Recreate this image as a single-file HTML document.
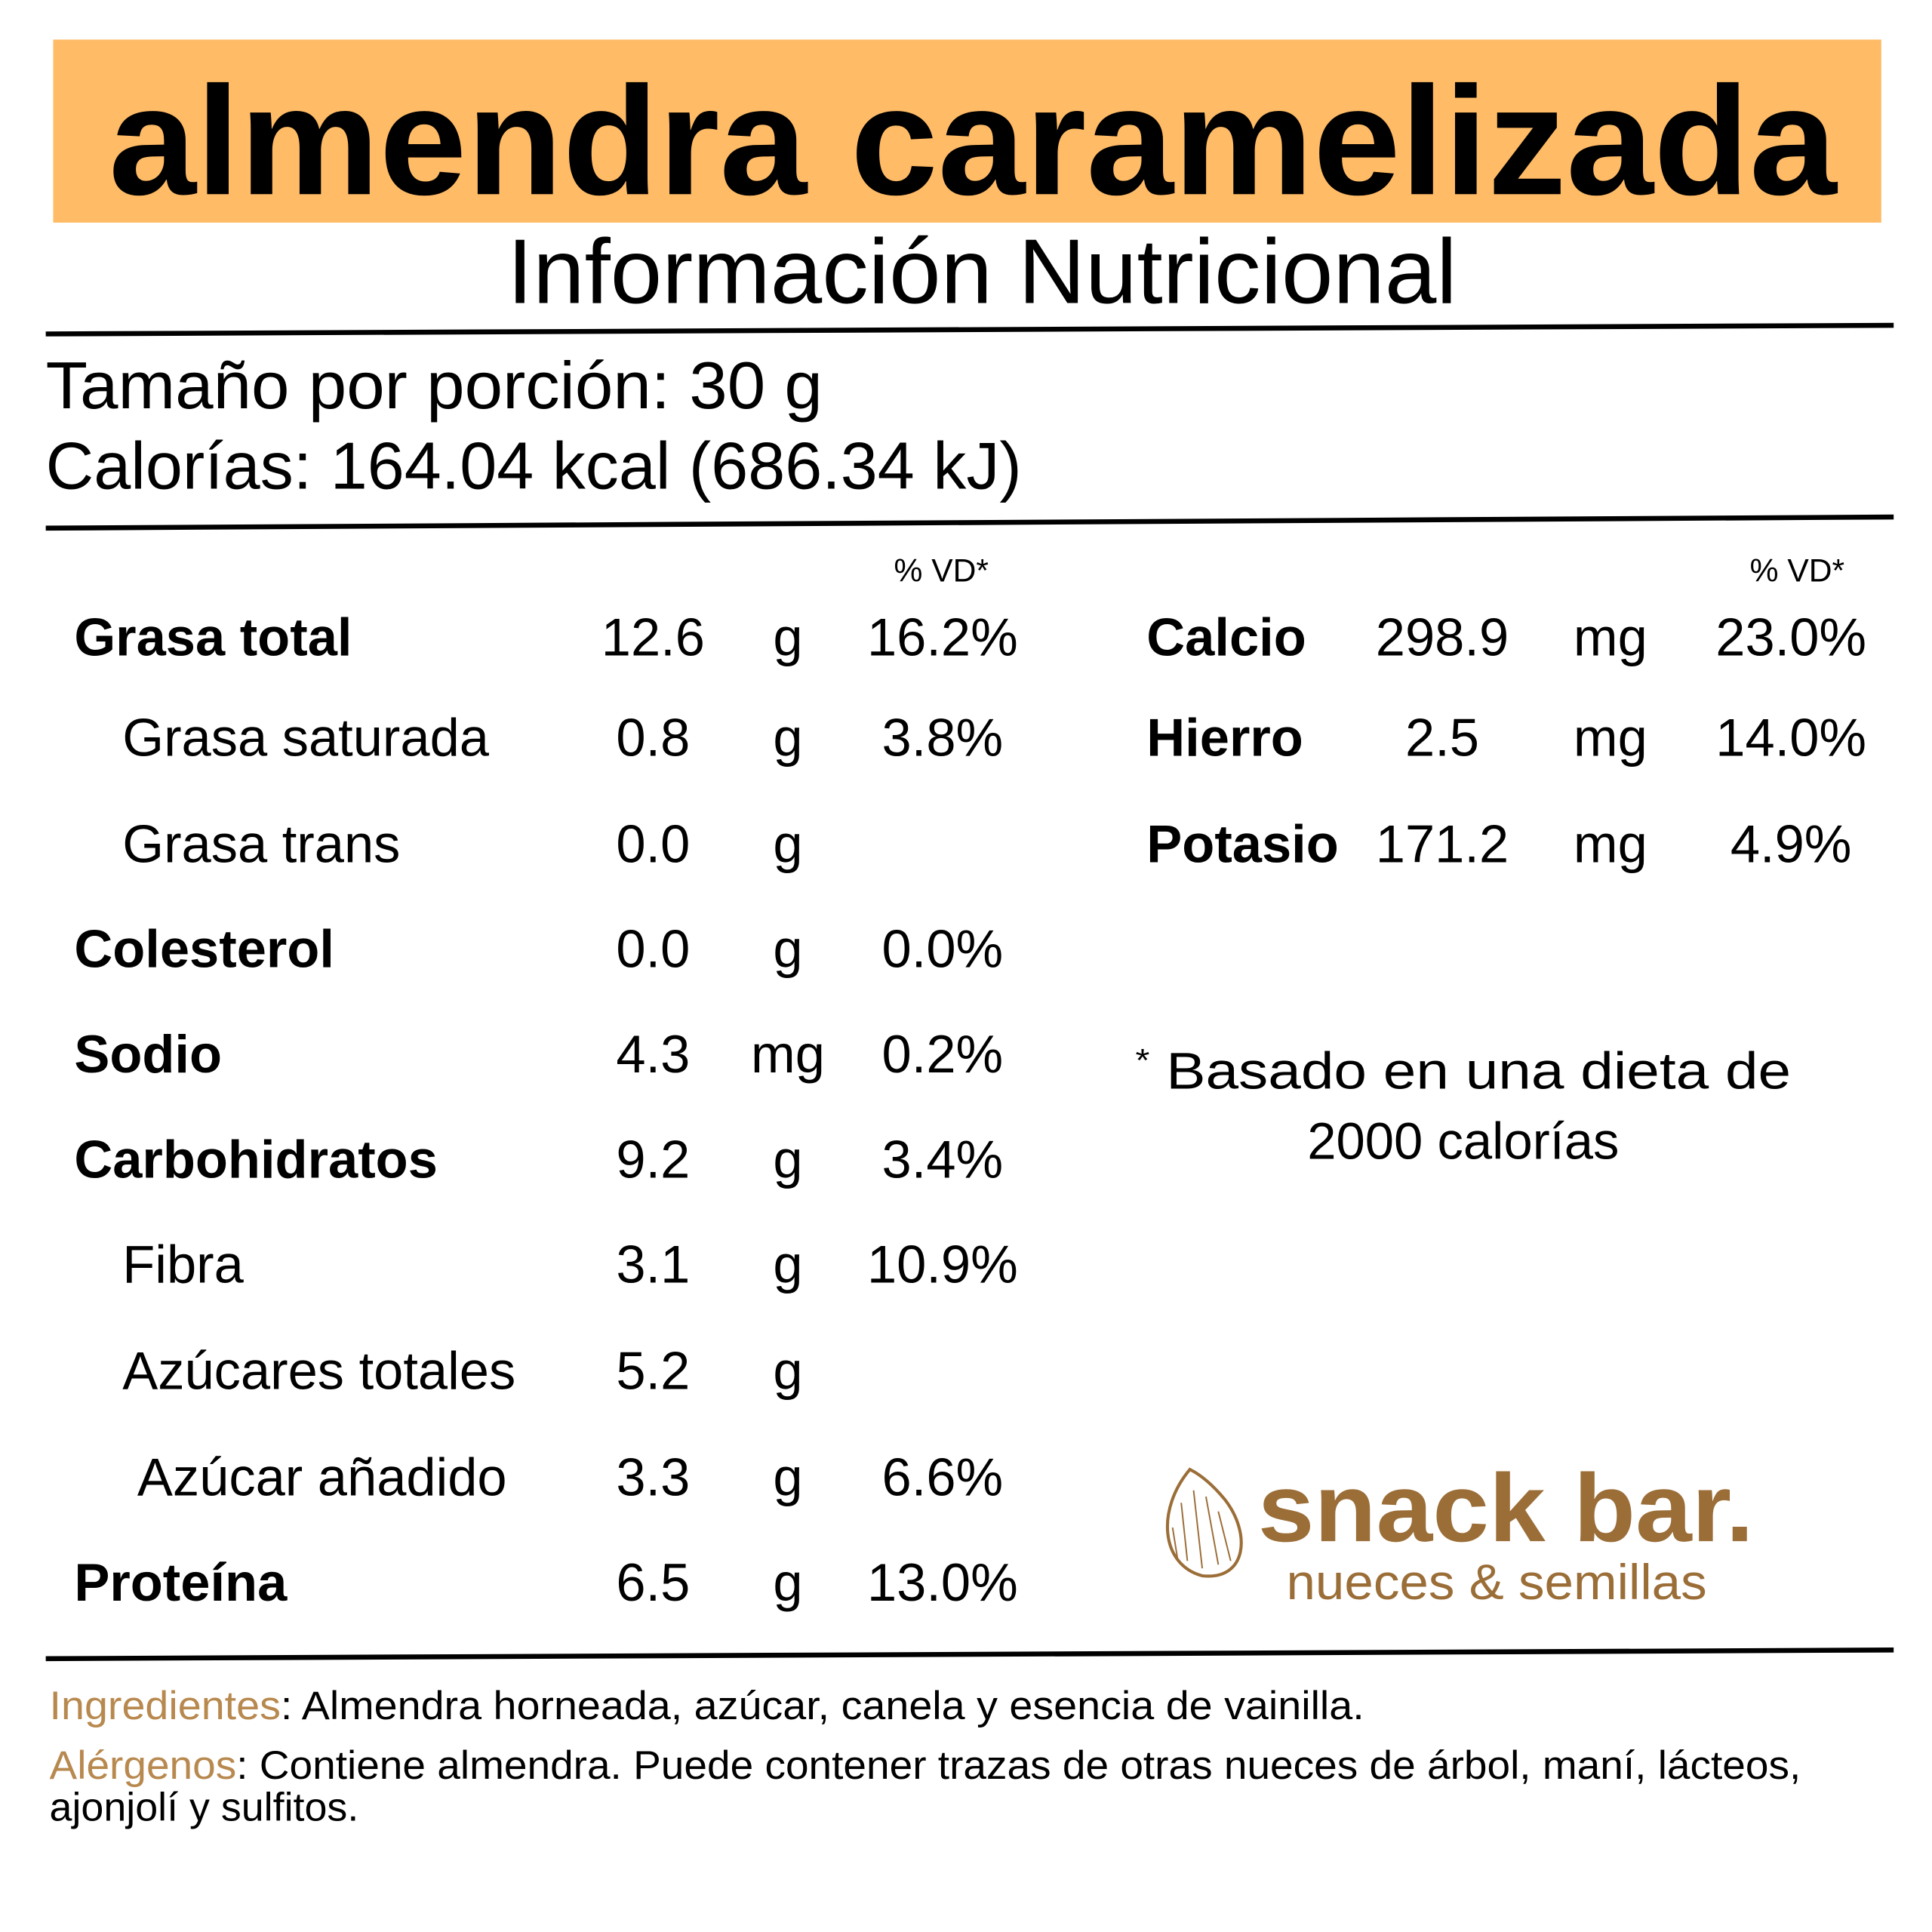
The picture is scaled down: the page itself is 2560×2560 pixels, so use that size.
<!DOCTYPE html>
<html><head><meta charset="utf-8"><style>
html,body{margin:0;padding:0;background:#fff}
svg{display:block}
text{font-family:"Liberation Sans",sans-serif}
</style></head><body>
<svg width="2560" height="2560" viewBox="0 0 1562 1562">
<rect x="43" y="32" width="1478" height="148" fill="#FFBB66"/>
<text x="88" y="157" font-size="125" font-weight="bold" textLength="1397" lengthAdjust="spacingAndGlyphs">almendra caramelizada</text>
<text x="410" y="245" font-size="74" textLength="768" lengthAdjust="spacingAndGlyphs">Información Nutricional</text>
<line x1="37" y1="270" x2="1531" y2="263" stroke="#000" stroke-width="4"/>
<text x="37" y="330" font-size="54" textLength="628" lengthAdjust="spacingAndGlyphs">Tamaño por porción: 30 g</text>
<text x="37" y="395" font-size="54" textLength="789" lengthAdjust="spacingAndGlyphs">Calorías: 164.04 kcal (686.34 kJ)</text>
<line x1="37" y1="427" x2="1531" y2="418" stroke="#000" stroke-width="4"/>
<text x="761" y="470" font-size="26" text-anchor="middle">% VD*</text>
<text x="1453" y="470" font-size="26" text-anchor="middle">% VD*</text>
<g id="rows"></g>
<text x="918" y="880" font-size="42" textLength="530" lengthAdjust="spacingAndGlyphs"><tspan font-size="26" dy="-14">*</tspan><tspan dy="14"> Basado en una dieta de</tspan></text>
<text x="1183" y="937" font-size="42" text-anchor="middle">2000 calorías</text>
<g>
<path d="M962 1188 C 935 1220 938 1265 972 1274 C 1008 1278 1012 1240 990 1212 C 980 1200 970 1192 962 1188 Z" fill="none" stroke="#9B6E38" stroke-width="2.5"/>
<path d="M955 1215 L960 1262 M965 1205 L972 1268 M975 1210 L985 1265 M985 1222 L995 1262 M948 1235 L952 1260" stroke="#9B6E38" stroke-width="1.2" fill="none"/>
<text x="1017" y="1246" font-size="78" font-weight="bold" fill="#9B6E38" textLength="401" lengthAdjust="spacingAndGlyphs">snack bar.</text>
<text x="1040" y="1293" font-size="40" fill="#9B6E38" textLength="340" lengthAdjust="spacingAndGlyphs">nueces &amp; semillas</text>
</g>
<line x1="37" y1="1341" x2="1531" y2="1334" stroke="#000" stroke-width="4"/>
<text x="40" y="1390" font-size="32" textLength="1063" lengthAdjust="spacingAndGlyphs"><tspan fill="#B8894F">Ingredientes</tspan>: Almendra horneada, azúcar, canela y esencia de vainilla.</text>
<text x="40" y="1438" font-size="32" textLength="1416" lengthAdjust="spacingAndGlyphs"><tspan fill="#B8894F">Alérgenos</tspan>: Contiene almendra. Puede contener trazas de otras nueces de árbol, maní, lácteos,</text>
<text x="40" y="1472" font-size="32" textLength="250" lengthAdjust="spacingAndGlyphs">ajonjolí y sulfitos.</text>
</svg>
<script>
const leftLabels=["Grasa total","Grasa saturada","Grasa trans","Colesterol","Sodio","Carbohidratos","Fibra","Azúcares totales","Azúcar añadido","Proteína"];
const leftBold=[1,0,0,1,1,1,0,0,0,1];
const leftIndent=[60,99,99,60,60,60,99,99,111,60];
const leftValues=["12.6","0.8","0.0","0.0","4.3","9.2","3.1","5.2","3.3","6.5"];
const leftUnits=["g","g","g","g","mg","g","g","g","g","g"];
const leftDV=["16.2%","3.8%","","0.0%","0.2%","3.4%","10.9%","","6.6%","13.0%"];
const leftY=[530,611,697,782,867,952,1037,1123,1209,1294];
const rightLabels=["Calcio","Hierro","Potasio"];
const rightValues=["298.9","2.5","171.2"];
const rightUnits=["mg","mg","mg"];
const rightDV=["23.0%","14.0%","4.9%"];
const NS="http://www.w3.org/2000/svg";
const g=document.getElementById('rows');
function t(x,y,s,anchor,bold,name){
  const e=document.createElementNS(NS,'text');
  e.setAttribute('x',x);e.setAttribute('y',y);e.setAttribute('font-size',43);
  if(anchor)e.setAttribute('text-anchor',anchor);
  if(bold)e.setAttribute('font-weight','bold');
  e.textContent=s;
  
  
  g.appendChild(e);return e;
}
leftLabels.forEach((l,i)=>{
  const y=leftY[i];
  t(leftIndent[i],y,l,null,leftBold[i],'nutrient-label');
  t(528,y,leftValues[i],'middle',0,'nutrient-value');
  t(637,y,leftUnits[i],'middle',0,'nutrient-unit');
  if(leftDV[i])t(762,y,leftDV[i],'middle',0,'nutrient-dv');
});
rightLabels.forEach((l,i)=>{
  const y=leftY[i];
  t(927,y,l,null,1,'mineral-label');
  t(1166,y,rightValues[i],'middle',0,'mineral-value');
  t(1302,y,rightUnits[i],'middle',0,'mineral-unit');
  t(1448,y,rightDV[i],'middle',0,'mineral-dv');
});
</script>
</body></html>
